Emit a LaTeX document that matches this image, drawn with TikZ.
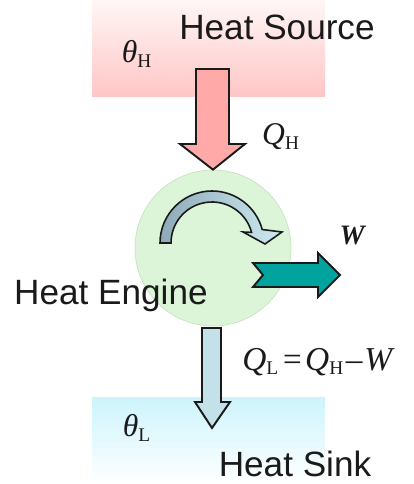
\documentclass[tikz,border=0pt]{standalone}
\usepackage{fontspec}
\setmainfont{Liberation Serif}
\setsansfont{Liberation Sans}
\usepackage{tikz}
\usetikzlibrary{positioning,calc}
\definecolor{HotPink}{HTML}{FFC6C6}
\definecolor{HotArrow}{HTML}{FFA9A8}
\definecolor{ColdCyan}{HTML}{CDF4FC}
\definecolor{ColdArrow}{HTML}{C4E0E8}
\definecolor{EngGreen}{HTML}{DCF4D8}
\definecolor{EngLine}{HTML}{C6E4BE}
\definecolor{WorkTeal}{HTML}{00A39E}
\definecolor{SpinDark}{HTML}{8EAAB6}
\definecolor{SpinLight}{HTML}{CDEAF2}
\definecolor{FigInk}{HTML}{1A1A1A}
\newcommand{\lowsub}[1]{\textsubscript{\upshape\fontsize{11}{11}\selectfont #1}}
\tikzset{
  figlabel/.style={font=\sffamily\fontsize{20}{22}\selectfont, text=FigInk, inner sep=0pt},
  figmath/.style={font=\fontsize{18}{20}\selectfont\itshape, text=FigInk, inner sep=0pt},
  blockarrow/.style={draw=FigInk, line width=1.1pt, line join=miter},
  reservoir/.style={draw=none}
}
\begin{document}
\begin{tikzpicture}[x=0.02cm, y=0.02cm]
\useasboundingbox (0,0) rectangle (413,484);
% reservoirs
\path[reservoir, top color=HotPink!15, bottom color=HotPink] (92,387) rectangle (325,484);
\path[reservoir, top color=ColdCyan, bottom color=white] (92,0) rectangle (325,86);
\node[figlabel] (src) at (277,457) {Heat Source};
\node[figlabel] (snk) at (295,20) {Heat Sink};
\node[figmath] (thH) at (137,430) {θ\lowsub{H}};
\node[figmath] (thL) at (137,56) {θ\lowsub{L}};
% engine
\node[circle, draw=EngLine, fill=EngGreen, minimum size=156*0.02cm, inner sep=0pt] (eng) at (213,236) {};
\node[figlabel, anchor=east] (englab) at (208,189) {Heat Engine};
% heat in
\draw[blockarrow, fill=HotArrow] (196,415) -- (229,415) -- (229,340) -- (245,340)
  -- (eng.north) -- (180,340) -- (196,340) -- cycle;
\node[figmath] (qh) at (281,347) {Q\lowsub{H}};
% heat out
\draw[blockarrow, fill=ColdArrow] (202,156) -- (221,156) -- (221,82) -- (230,82)
  -- (212,56) -- (195,82) -- (202,82) -- cycle;
\node[figmath, font=\fontsize{19}{21}\selectfont\itshape, anchor=west] (ql) at (242,122)
  {Q\lowsub{L}\kern1pt=\kern1ptQ\lowsub{H}\kern1pt–\kern1ptW};
% rotation
\draw[blockarrow, line width=0.9pt, left color=SpinDark, right color=SpinLight]
  ($(212,241)+(180:52)$) arc[start angle=180, end angle=15, radius=52]
  -- (282,252) -- (265,240) -- (243,252)
  -- ($(212,241)+(15:41)$) arc[start angle=15, end angle=180, radius=41] -- cycle;
% work
\draw[blockarrow, fill=WorkTeal] (253,221) -- (318,221) -- (318,231) -- (340,209)
  -- (318,187) -- (318,197) -- (253,197) -- (263,209) -- cycle;
\node[figmath, font=\fontsize{16}{18}\selectfont\bfseries\itshape] (w) at (352,248) {W};
\end{tikzpicture}
\end{document}
